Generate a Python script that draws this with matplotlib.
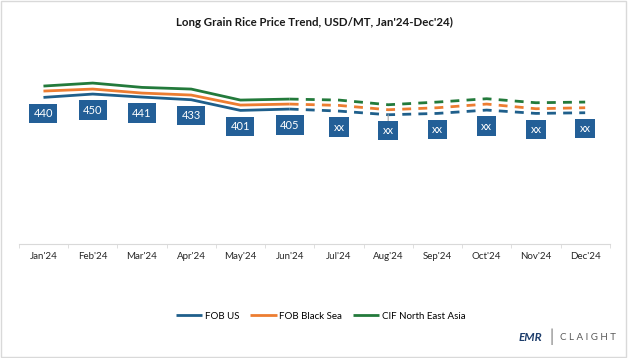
import matplotlib.pyplot as plt
from matplotlib.patches import Rectangle

months = ["Jan'24", "Feb'24", "Mar'24", "Apr'24", "May'24", "Jun'24",
          "Jul'24", "Aug'24", "Sep'24", "Oct'24", "Nov'24", "Dec'24"]
fob_us = [440, 450, 441, 433, 401, 405, 399, 388, 392, 402, 392, 394]
fob_black_sea = [459, 465, 453, 447, 417, 420, 416, 403, 409, 420, 406, 409]
cif_ne_asia = [474, 483, 470, 465, 432, 435, 432, 418, 426, 436, 424, 426]
labels = ["440", "450", "441", "433", "401", "405", "xx", "xx", "xx", "xx", "xx", "xx"]
n_actual = 6  # Jan-Jun actual, rest forecast (dashed)

series = [
    ("FOB US", fob_us, "#1f5f8b"),
    ("FOB Black Sea", fob_black_sea, "#ed7d31"),
    ("CIF North East Asia", cif_ne_asia, "#237a3b"),
]

plt.rcParams['font.family'] = ['Lato', 'DejaVu Sans']

fig = plt.figure(figsize=(6.28, 3.58), dpi=100)
ax = fig.add_axes([0.030, 0.318, 0.941, 0.559])

x = list(range(len(months)))
for name, vals, col in series:
    ax.plot(x[:n_actual], vals[:n_actual], color=col, lw=2, label=name,
            solid_capstyle='butt')
    ax.plot(x[n_actual - 1:], vals[n_actual - 1:], color=col, lw=2,
            dashes=(3.2, 2.6))

for i, (v, t) in enumerate(zip(fob_us, labels)):
    kw = {}
    if months[i] == "Aug'24":
        kw = dict(arrowprops=dict(arrowstyle='-', color='#a6a6a6', lw=0.8,
                                  shrinkA=0, shrinkB=0))
    ax.annotate(t, (i, v), xytext=(0, -11.5), textcoords='offset points',
                ha='center', va='center', color='white', fontsize=8,
                bbox=dict(boxstyle='square,pad=0.38', fc='#235f97', ec='none'),
                **kw)

ax.set_xlim(-0.5, len(months) - 0.5)
ax.set_ylim(0, 600)
ax.set_xticks(x)
ax.set_xticklabels(months, fontsize=7, color='#262626')
ax.set_xticks([i - 0.5 for i in range(len(months) + 1)], minor=True)
ax.tick_params(axis='x', which='major', length=0, pad=6)
ax.tick_params(axis='x', which='minor', length=3, color='#d9d9d9')
ax.set_yticks([])
for s in ['top', 'right', 'left']:
    ax.spines[s].set_visible(False)
ax.spines['bottom'].set_color('#d9d9d9')

fig.text(0.5, 0.938, "Long Grain Rice Price Trend, USD/MT, Jan'24-Dec'24)",
         ha='center', va='center', fontsize=8.3, fontweight='bold', color='#1a1a1a')

fig.legend(loc='center', bbox_to_anchor=(0.511, 0.117), ncol=3, frameon=False,
           fontsize=7, handlelength=2.7, handletextpad=0.3, columnspacing=1.1)

# logo
fig.text(0.845, 0.056, "EMR", fontsize=8.5, fontweight='bold', color='#1d3d6b',
         ha='center', va='center', style='italic')
fig.text(0.878, 0.058, "|", fontsize=12, color='#7f7f7f', ha='center', va='center')
fig.text(0.937, 0.056, "C L A I G H T", fontsize=7, color='#595959',
         ha='center', va='center')

fig.patches.append(Rectangle((0.002, 0.003), 0.995, 0.993, transform=fig.transFigure,
                             fill=False, ec='#d9d9d9', lw=1))

fig.savefig('out.png', dpi=100)
